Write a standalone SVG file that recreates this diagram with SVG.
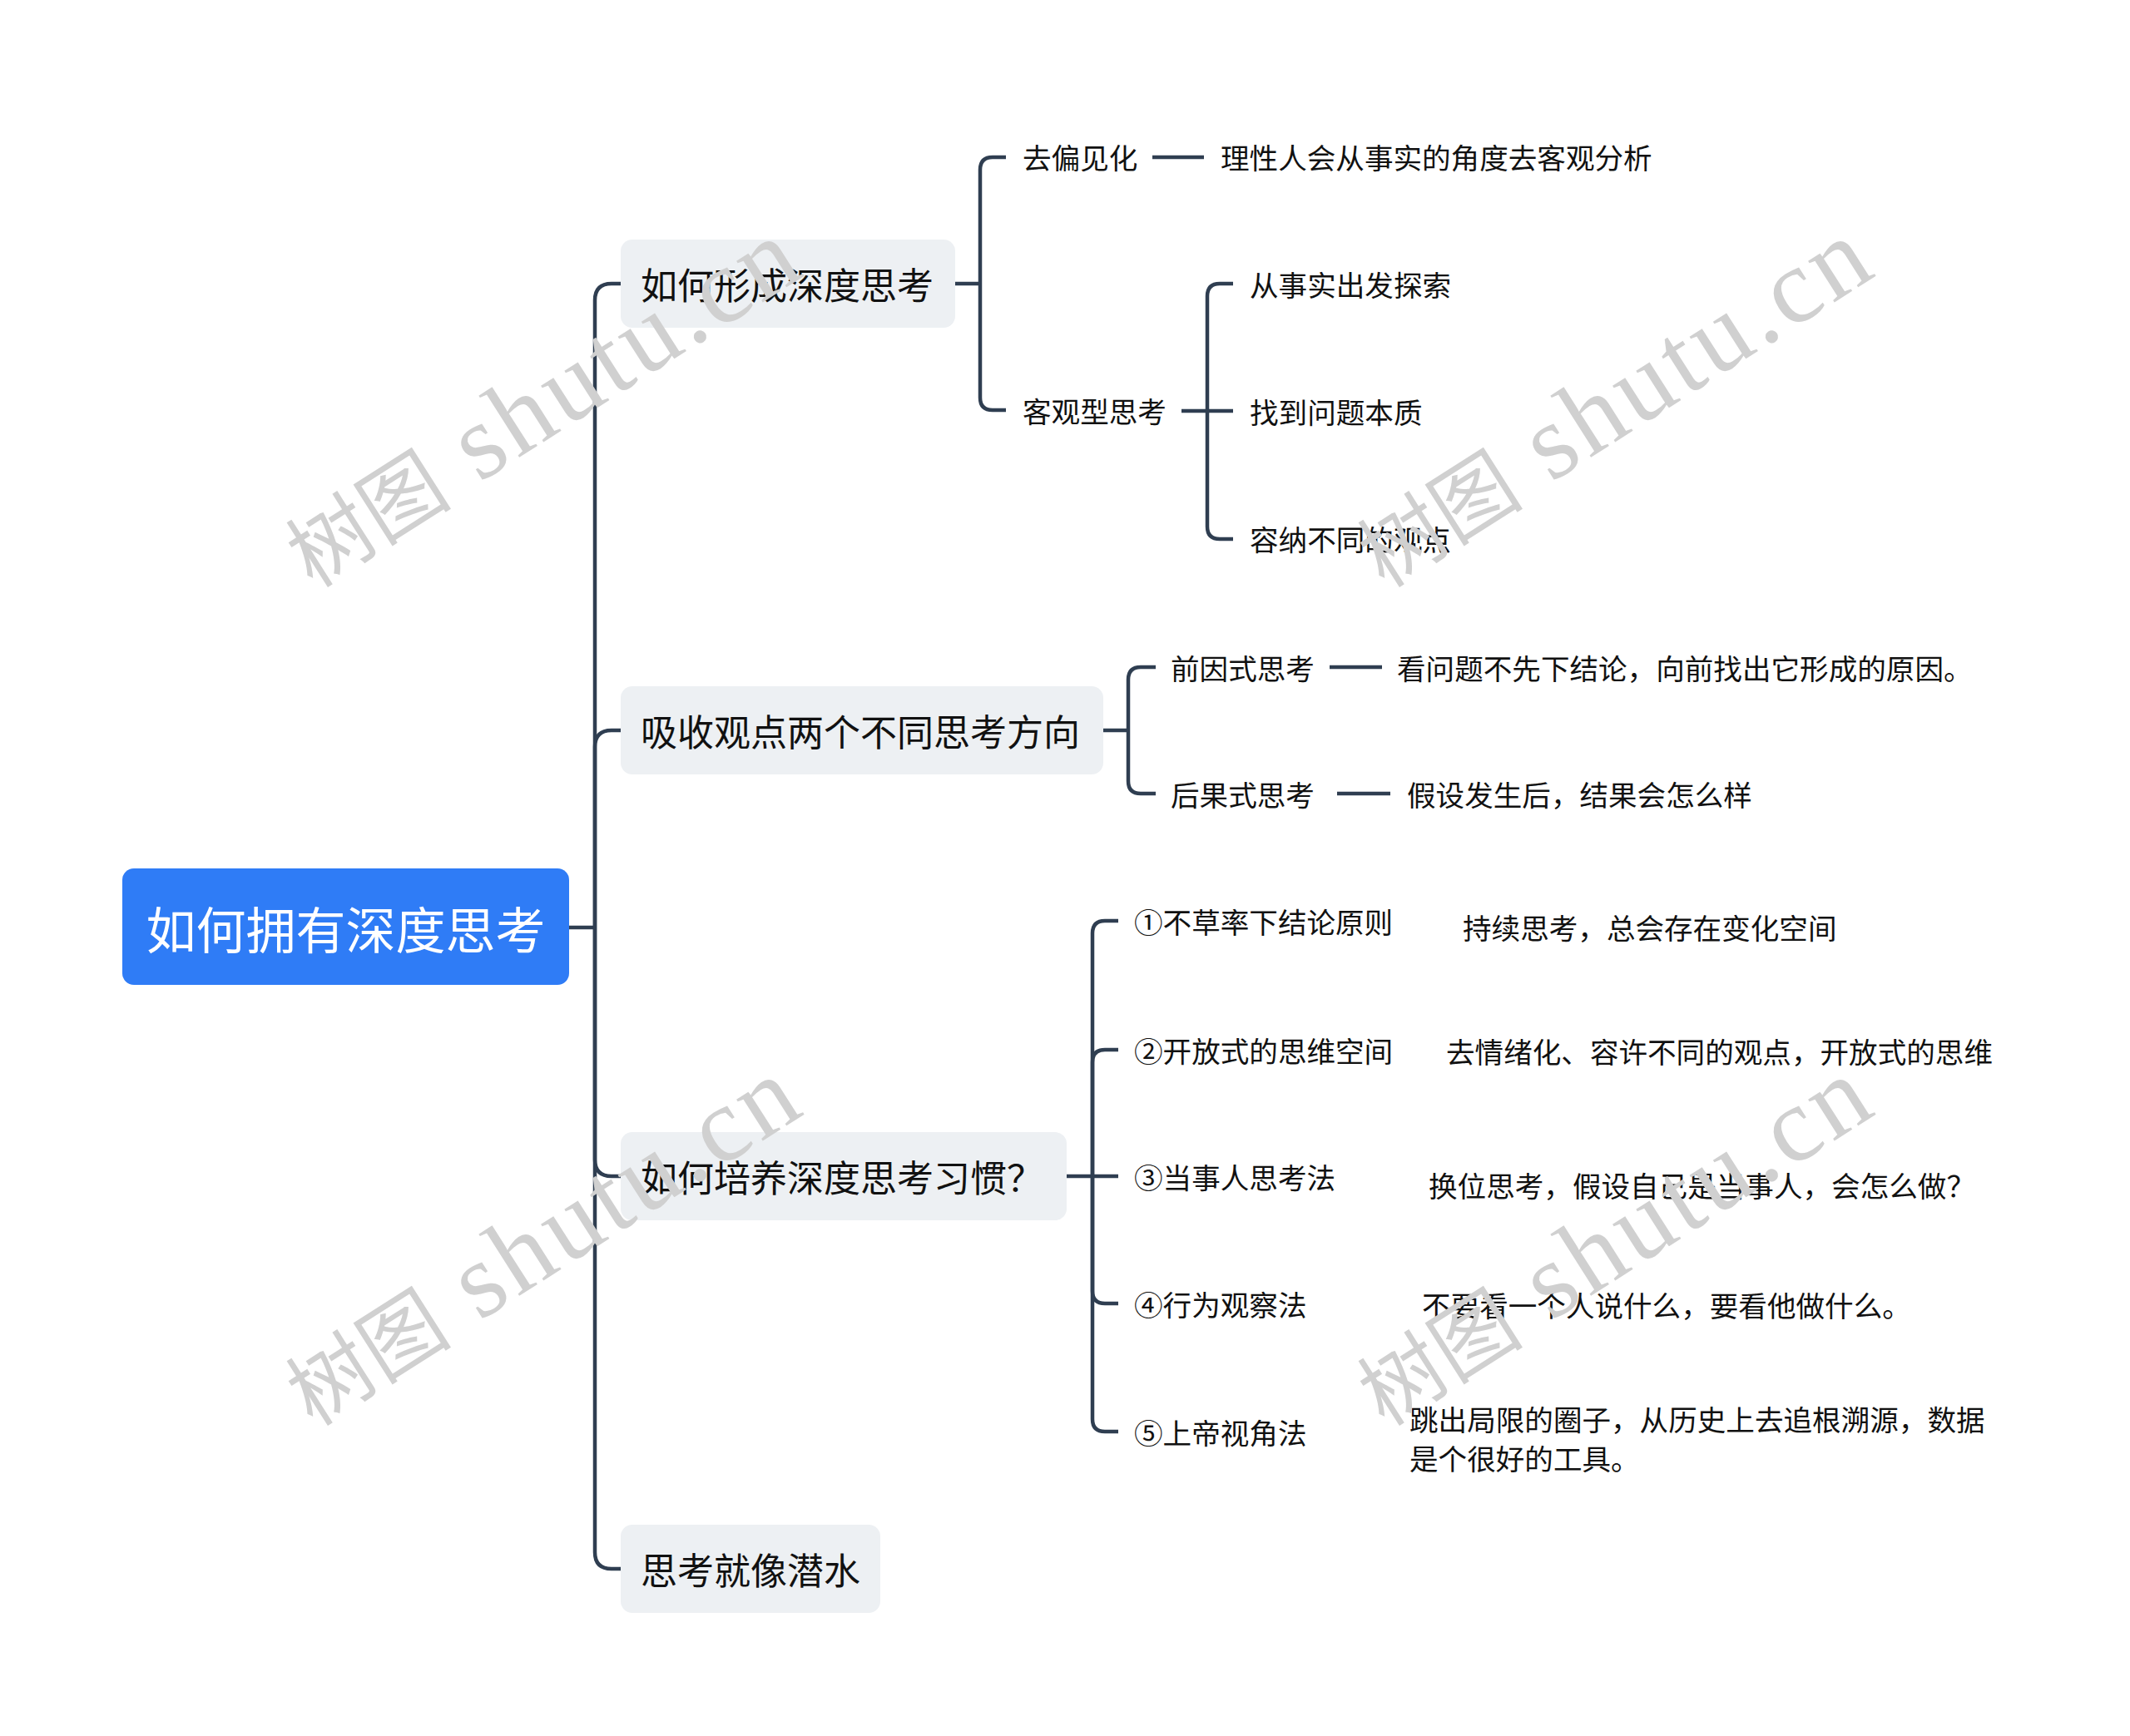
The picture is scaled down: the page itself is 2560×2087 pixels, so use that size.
<svg xmlns="http://www.w3.org/2000/svg" width="2560" height="2087" viewBox="0 0 2560 2087">
<style>
.bg{fill:#ffffff}
.wm{font-family:"Liberation Serif","Noto Sans CJK SC",serif;fill:#d0d0d0}
.wmc{font-size:100px}
.wml{font-size:128px;letter-spacing:5px}
.line{fill:none;stroke:#2f3e51;stroke-width:4.5;stroke-linecap:butt}
.root{fill:#2f7cf6}
.rootT{font-family:"Noto Sans CJK SC","Noto Sans",sans-serif;font-size:60px;fill:#ffffff;dominant-baseline:central}
.sub{fill:#edf0f3}
.subT{font-family:"Noto Sans CJK SC","Noto Sans",sans-serif;font-size:44px;fill:#111111;dominant-baseline:central}
.leaf{font-family:"Noto Sans CJK SC","Noto Sans",sans-serif;font-size:34.6px;fill:#111111;dominant-baseline:central}
</style>
<rect class="bg" x="0" y="0" width="2560" height="2087"/>
<g id="connectors">
<path class="line" d="M684,1115 H715"/>
<path class="line" d="M715,1115 V361 Q715,341 735,341 H746"/>
<path class="line" d="M715,1115 V898 Q715,878 735,878 H746"/>
<path class="line" d="M715,1115 V1394 Q715,1414 735,1414 H746"/>
<path class="line" d="M715,1115 V1866 Q715,1886 735,1886 H746"/>
<path class="line" d="M1148,341 H1178"/>
<path class="line" d="M1178,341 V204 Q1178,189 1193,189 H1209"/>
<path class="line" d="M1178,341 V478 Q1178,493 1193,493 H1209"/>
<path class="line" d="M1385,189 H1447"/>
<path class="line" d="M1420,494 H1482"/>
<path class="line" d="M1451,494 V356 Q1451,341 1466,341 H1482"/>
<path class="line" d="M1451,494 V633 Q1451,648 1466,648 H1482"/>
<path class="line" d="M1326,878 H1356"/>
<path class="line" d="M1356,878 V817 Q1356,802 1371,802 H1389"/>
<path class="line" d="M1356,878 V939 Q1356,954 1371,954 H1389"/>
<path class="line" d="M1598,802 H1661"/>
<path class="line" d="M1607,954 H1671"/>
<path class="line" d="M1282,1414 H1344"/>
<path class="line" d="M1313,1414 V1122 Q1313,1107 1328,1107 H1344"/>
<path class="line" d="M1313,1414 V1277 Q1313,1262 1328,1262 H1344"/>
<path class="line" d="M1313,1414 V1552 Q1313,1567 1328,1567 H1344"/>
<path class="line" d="M1313,1414 V1706 Q1313,1721 1328,1721 H1344"/>
</g>
<g id="root">
<rect class="root" x="147" y="1044" width="537" height="140" rx="14"/>
<text class="rootT" x="415.5" y="1114" text-anchor="middle">如何拥有深度思考</text>
</g>
<g id="n1">
<rect class="sub" x="746" y="288" width="402" height="106" rx="14"/>
<text class="subT" x="770" y="341">如何形成深度思考</text>
</g>
<g id="n1a"><text class="leaf" x="1229" y="188">去偏见化</text></g>
<g id="n1a1"><text class="leaf" x="1467" y="188">理性人会从事实的角度去客观分析</text></g>
<g id="n1b"><text class="leaf" x="1229" y="493">客观型思考</text></g>
<g id="n1b1"><text class="leaf" x="1502" y="341">从事实出发探索</text></g>
<g id="n1b2"><text class="leaf" x="1502" y="494">找到问题本质</text></g>
<g id="n1b3"><text class="leaf" x="1502" y="647">容纳不同的观点</text></g>
<g id="n2">
<rect class="sub" x="746" y="825" width="580" height="106" rx="14"/>
<text class="subT" x="770" y="878">吸收观点两个不同思考方向</text>
</g>
<g id="n2a"><text class="leaf" x="1407" y="802">前因式思考</text></g>
<g id="n2a1"><text class="leaf" x="1679" y="802">看问题不先下结论，向前找出它形成的原因。</text></g>
<g id="n2b"><text class="leaf" x="1407" y="954">后果式思考</text></g>
<g id="n2b1"><text class="leaf" x="1691" y="954">假设发生后，结果会怎么样</text></g>
<g id="n3">
<rect class="sub" x="746" y="1361" width="536" height="106" rx="14"/>
<text class="subT" x="770" y="1414">如何培养深度思考习惯？</text>
</g>
<g id="n3a"><text class="leaf" x="1363" y="1107">①不草率下结论原则</text></g>
<g id="n3a1"><text class="leaf" x="1758" y="1114">持续思考，总会存在变化空间</text></g>
<g id="n3b"><text class="leaf" x="1363" y="1262">②开放式的思维空间</text></g>
<g id="n3b1"><text class="leaf" x="1738" y="1263">去情绪化、容许不同的观点，开放式的思维</text></g>
<g id="n3c"><text class="leaf" x="1363" y="1414">③当事人思考法</text></g>
<g id="n3c1"><text class="leaf" x="1717" y="1424">换位思考，假设自己是当事人，会怎么做？</text></g>
<g id="n3d"><text class="leaf" x="1363" y="1567">④行为观察法</text></g>
<g id="n3d1"><text class="leaf" x="1709" y="1568">不要看一个人说什么，要看他做什么。</text></g>
<g id="n3e"><text class="leaf" x="1363" y="1721">⑤上帝视角法</text></g>
<g id="n3e1"><text class="leaf" x="1694" y="1705">跳出局限的圈子，从历史上去追根溯源，数据</text><text class="leaf" x="1694" y="1752">是个很好的工具。</text></g>
<g id="n4">
<rect class="sub" x="746" y="1833" width="312" height="106" rx="14"/>
<text class="subT" x="770" y="1886">思考就像潜水</text>
</g>
<g id="watermark">
<text class="wm" transform="translate(376,708) rotate(-32.5)"><tspan class="wmc">树图</tspan><tspan class="wml"> shutu.cn</tspan></text>
<text class="wm" transform="translate(1664,708) rotate(-32.5)"><tspan class="wmc">树图</tspan><tspan class="wml"> shutu.cn</tspan></text>
<text class="wm" transform="translate(376,1716) rotate(-32.5)"><tspan class="wmc">树图</tspan><tspan class="wml"> shutu.cn</tspan></text>
<text class="wm" transform="translate(1664,1716) rotate(-32.5)"><tspan class="wmc">树图</tspan><tspan class="wml"> shutu.cn</tspan></text>
</g>
</svg>
